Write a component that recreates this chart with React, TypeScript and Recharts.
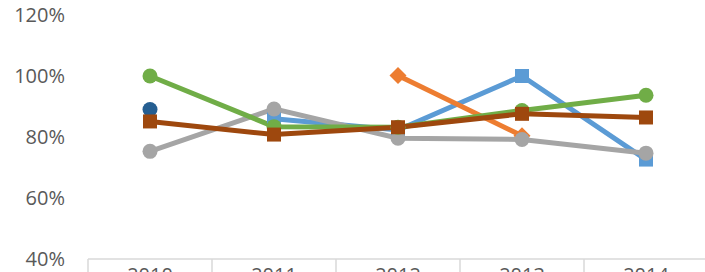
import React from "react";
import { LineChart, Line, XAxis, YAxis } from "recharts";

const years = ["2010", "2011", "2012", "2013", "2014"];
const seriesBlue = [null, 86, 82.3, 100, 72.6];
const seriesOrange = [null, null, 100.2, 80.4, null];
const seriesGray = [75.3, 89.2, 79.6, 79.2, 74.7];
const seriesGreen = [100, 83.4, 83.2, 88.7, 93.7];
const seriesDarkBlue = [89, null, null, null, null];
const seriesBrown = [85.1, 80.8, 83.2, 87.6, 86.4];
const yTicks = [40, 60, 80, 100, 120];

const data = years.map((y, i) => ({
  year: y,
  blue: seriesBlue[i],
  orange: seriesOrange[i],
  gray: seriesGray[i],
  green: seriesGreen[i],
  darkblue: seriesDarkBlue[i],
  brown: seriesBrown[i],
}));

const FONT = "'Open Sans', 'Liberation Sans', sans-serif";
const TEXT = "#595959";

const makeDot = (shape: string, color: string) => (props: any) => {
  const { cx, cy, index, value } = props;
  if (cx == null || cy == null || value == null) return <g key={`d-${shape}-${color}-${index}`} />;
  if (shape === "circle") {
    return <circle key={`d-${color}-${index}`} cx={cx} cy={cy} r={7.5} fill={color} stroke="none" />;
  }
  if (shape === "square") {
    const s = 14;
    return <rect key={`d-${color}-${index}`} x={cx - s / 2} y={cy - s / 2} width={s} height={s} fill={color} />;
  }
  const d = 8.5;
  return (
    <path
      key={`d-${color}-${index}`}
      d={`M${cx},${cy - d} L${cx + d},${cy} L${cx},${cy + d} L${cx - d},${cy} Z`}
      fill={color}
    />
  );
};

const XTick = (props: any) => {
  const { x, y, payload, index, visibleTicksCount } = props;
  const off = payload && payload.offset ? payload.offset : 62;
  const last = index === (visibleTicksCount ?? years.length) - 1;
  return (
    <g>
      <line x1={x - off} y1={y} x2={x - off} y2={y + 20} stroke="#D9D9D9" strokeWidth={1.5} />
      {last && <line x1={x + off} y1={y} x2={x + off} y2={y + 20} stroke="#D9D9D9" strokeWidth={1.5} />}
      <text x={x} y={y + 23} textAnchor="middle" fill={TEXT} fontFamily={FONT} fontSize={20}>
        {payload.value}
      </text>
    </g>
  );
};

export default function App() {
  return (
    <div style={{ position: "absolute", left: 0, top: 0, width: 705, height: 272, overflow: "hidden", background: "#fff" }}>
      <LineChart width={720} height={299} data={data} margin={{ top: 15, right: 12, bottom: 0, left: 0 }}>
        <XAxis
          dataKey="year"
          scale="band"
          height={40}
          axisLine={{ stroke: "#D9D9D9", strokeWidth: 1.5 }}
          tickLine={false}
          tickSize={0}
          tickMargin={0}
          tick={<XTick />}
          interval={0}
        />
        <YAxis
          width={88}
          domain={[40, 120]}
          ticks={yTicks}
          axisLine={false}
          tickLine={false}
          tickSize={0}
          tickMargin={23}
          tickFormatter={(v: number) => `${v}%`}
          tick={{ fill: TEXT, fontFamily: FONT, fontSize: 20 }}
        />
        <Line dataKey="blue" stroke="#5B9BD5" strokeWidth={5} dot={makeDot("square", "#5B9BD5")} isAnimationActive={false} connectNulls={false} />
        <Line dataKey="orange" stroke="#ED7D31" strokeWidth={5} dot={makeDot("diamond", "#ED7D31")} isAnimationActive={false} />
        <Line dataKey="gray" stroke="#A5A5A5" strokeWidth={5} dot={makeDot("circle", "#A5A5A5")} isAnimationActive={false} />
        <Line dataKey="green" stroke="#70AD47" strokeWidth={5} dot={makeDot("circle", "#70AD47")} isAnimationActive={false} />
        <Line dataKey="darkblue" stroke="#255E91" strokeWidth={5} dot={makeDot("circle", "#255E91")} isAnimationActive={false} />
        <Line dataKey="brown" stroke="#9E480E" strokeWidth={5} dot={makeDot("square", "#9E480E")} isAnimationActive={false} />
      </LineChart>
    </div>
  );
}
